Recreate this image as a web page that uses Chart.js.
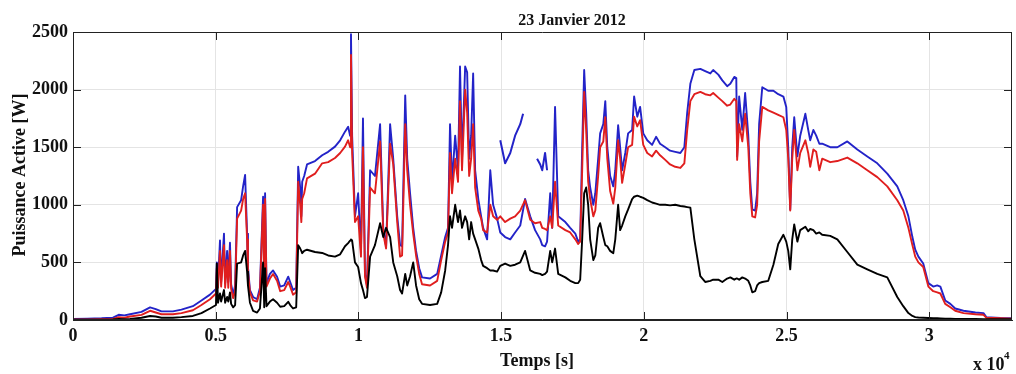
<!DOCTYPE html>
<html>
<head>
<meta charset="utf-8">
<title>23 Janvier 2012</title>
<script src="https://cdn.jsdelivr.net/npm/chart.js@4.4.1/dist/chart.umd.min.js"></script>
<style>
  html, body { margin: 0; padding: 0; background: #ffffff; }
  #wrap { width: 1016px; height: 374px; }
</style>
</head>
<body>
<div id="wrap"><canvas id="c" width="1016" height="374"></canvas></div>
<script>
// Temps [s] of each sample
const timeS = [
  0, 500, 1000, 1400, 1600, 1800, 2000, 2400, 2700, 2900,
  3100, 3500, 3800, 4200, 4500, 4800, 5010, 5040, 5080, 5150,
  5190, 5290, 5330, 5400, 5440, 5500, 5540, 5610, 5680, 5750,
  5890, 5960, 6030, 6100, 6130, 6200, 6310, 6450, 6550, 6660,
  6700, 6730, 6780, 6900, 7010, 7150, 7260, 7400, 7540, 7610,
  7710, 7820, 7890, 7960, 8000, 8030, 8100, 8200, 8480, 8730,
  8940, 9180, 9360, 9530, 9640, 9710, 9740, 9780, 9880, 9990,
  10090, 10160, 10230, 10300, 10410, 10580, 10760, 10870, 10970, 11110,
  11220, 11360, 11460, 11530, 11640, 11710, 11810, 11920, 12020, 12130,
  12230, 12510, 12760, 12900, 13040, 13140, 13210, 13280, 13390, 13490,
  13560, 13630, 13740, 13810, 13880, 13950, 14020, 14090, 14200, 14300,
  14370, 14510, 14620, 14720, 14860, 14970, 15140, 15320, 15490, 15670,
  15840, 16020, 16190, 16370, 16440, 16540, 16610, 16720, 16790, 16890,
  17000, 17250, 17420, 17600, 17700, 17770, 17840, 17910, 17980, 18050,
  18120, 18230, 18300, 18400, 18470, 18580, 18650, 18720, 18820, 18930,
  19000, 19100, 19170, 19240, 19350, 19450, 19590, 19660, 19770, 19870,
  19980, 20120, 20290, 20430, 20570, 20750, 20920, 21100, 21280, 21420,
  21520, 21630, 21770, 21980, 22150, 22330, 22430, 22610, 22750, 22920,
  23030, 23170, 23240, 23270, 23340, 23450, 23550, 23660, 23730, 23800,
  23900, 23970, 24040, 24150, 24360, 24540, 24710, 24890, 24990, 25060,
  25130, 25200, 25270, 25380, 25480, 25660, 25760, 25830, 25940, 26040,
  26150, 26250, 26530, 26780, 27130, 27480, 27830, 28180, 28530, 28880,
  29090, 29270, 29410, 29510, 29620, 29790, 29970, 30140, 30280, 30390,
  30560, 30740, 30910, 31200, 31620, 31900, 32000, 32490, 32900
];

// Puissance active, courbe bleue [W]
const blueW = [
  10, 12, 15, 20, 45, 40, 50, 70, 110, 95,
  75, 75, 90, 120, 170, 220, 270, 500, 320, 690,
  330, 750, 320, 600, 330, 670, 310, 220, 300, 980,
  1040, 1160, 1260, 750, 460, 260, 200, 180, 280, 1070,
  300, 1100, 320, 400, 430, 376, 290, 300, 376, 330,
  260, 280, 1330, 1150, 900, 1200, 1250, 1350, 1380, 1430,
  1460, 1505, 1560, 1635, 1678, 1600, 2480, 1600, 900, 1100,
  600, 1750, 400, 300, 1300, 1250, 1700, 800, 640, 1700,
  1400, 900, 650, 640, 1950, 1400, 1100, 800, 600, 450,
  370, 360, 400, 560, 720, 800, 1700, 1200, 1600, 1300,
  2200, 1400, 2200, 2150, 1400, 1600, 2140, 1300, 1050, 900,
  800, 700, 1300, 1000, 880, 760, 720, 700, 760, 820,
  1050, 900, 780, 700, 650, 640, 680, 1100, 800, 1850,
  900, 850, 800, 750, 680, 700, 1500, 2170, 1800, 1300,
  1150, 1000, 1100, 1400, 1620, 1700, 1900, 1500, 1250, 1160,
  1300, 1690, 1500, 1300, 1450, 1620, 1650, 1940, 1765, 1850,
  1620, 1560, 1520, 1590, 1530, 1500, 1470, 1460, 1450, 1500,
  1800, 2050, 2170, 2180, 2160, 2140, 2170, 2130, 2080, 2030,
  2050, 2110, 2100, 1420, 1940, 1650, 1970, 1600, 1200, 960,
  950, 1100, 1700, 2020, 1990, 1990, 1960, 1940, 1850, 1500,
  960, 1500, 1760, 1420, 1600, 1790, 1650, 1560, 1650, 1600,
  1530, 1530, 1500, 1500, 1550, 1480, 1420, 1360, 1270, 1160,
  1040, 900, 720, 610, 550, 490, 320, 290, 300, 290,
  170, 140, 100, 80, 65, 60, 25, 18, 15
];

// Puissance active, courbe rouge [W]
const redW = [
  5, 5, 8, 10, 25, 20, 30, 45, 80, 65,
  50, 50, 60, 85, 130, 180, 230, 450, 280, 600,
  290, 650, 280, 520, 280, 600, 270, 190, 250, 880,
  950, 1050, 1100, 700, 420, 240, 170, 160, 250, 1000,
  270, 1050, 290, 360, 400, 340, 250, 260, 330, 290,
  220, 240, 1200, 1000, 850, 1050, 1100, 1230, 1270, 1360,
  1370, 1406, 1450, 1505, 1560, 1500, 2300, 1450, 850, 900,
  550, 1500, 380, 280, 1150, 1100, 1550, 750, 620, 1530,
  1350, 850, 550, 560, 1700, 1300, 1000, 750, 560, 400,
  310, 300, 340, 520, 680, 760, 1450, 1100, 1400, 1200,
  1900, 1300, 2000, 1800, 1250, 1400, 1700, 1150, 950, 880,
  780, 760, 1000, 900, 870, 900, 850, 880, 900, 950,
  1040, 870, 840, 850, 800, 790, 780, 900, 800, 1200,
  820, 780, 760, 700, 660, 680, 1300, 1980, 1650, 1200,
  1050, 900, 950, 1250, 1500, 1550, 1760, 1400, 1120, 1010,
  1150, 1560, 1400, 1190, 1350, 1500, 1520, 1765, 1680, 1735,
  1520, 1450, 1420, 1470, 1430, 1390, 1350, 1330, 1320, 1360,
  1650, 1900, 1960, 1980, 1960, 1950, 1970, 1930, 1900, 1860,
  1870, 1920, 1900, 1390, 1700, 1550, 1790, 1500, 1100, 900,
  890, 1000, 1550, 1850, 1820, 1800, 1780, 1760, 1650, 1400,
  950, 1400, 1650, 1300, 1450, 1560, 1450, 1330, 1480, 1460,
  1300, 1400, 1370, 1380, 1410, 1360, 1300, 1240, 1160, 1040,
  950, 800, 650, 550, 500, 460, 290, 250, 240, 230,
  140, 110, 80, 60, 50, 45, 20, 15, 12
];

// Puissance active, courbe noire [W]
const blackW = [
  2, 2, 3, 5, 10, 8, 10, 20, 35, 30,
  20, 20, 25, 35, 60, 100, 130, 490, 150, 230,
  160, 260, 150, 200, 160, 240, 140, 110, 130, 490,
  500, 560, 600, 420, 300, 150, 80, 65, 100, 500,
  110, 450, 120, 160, 180, 150, 115, 120, 158, 130,
  100, 110, 650, 620, 600, 580, 600, 610, 590, 582,
  560, 550, 570, 640, 668, 690, 700, 690, 500, 460,
  320, 260, 190, 200, 550, 650, 840, 720, 800, 720,
  500, 380, 260, 230, 400, 300, 380, 500, 300, 180,
  140, 130, 140, 240, 430, 650, 900, 800, 1000, 850,
  950, 800, 900, 850, 700, 850, 750, 700, 620, 520,
  470, 450, 430, 430, 420, 470, 490, 470, 480, 500,
  600, 430, 410, 400, 390, 400, 420, 600, 500, 620,
  400, 370, 340, 320, 320, 350, 700, 1100, 1150, 1000,
  700, 520, 560, 800, 840, 720, 650, 640, 600, 580,
  700, 1000, 780, 820, 900, 960, 1050, 1070, 1080, 1070,
  1060, 1040, 1020, 1010, 1000, 1000, 995, 1000, 990, 985,
  980, 975, 700, 380, 330, 340, 350, 350, 330, 360,
  370, 350, 360, 360, 350, 370, 360, 340, 300, 240,
  250, 300, 320, 330, 340, 480, 660, 740, 680, 600,
  440, 700, 830, 680, 780, 810, 770, 790, 780, 750,
  760, 740, 730, 700, 590, 480, 440, 400, 370, 200,
  120, 60, 35, 25, 22, 20, 18, 16, 15, 14,
  12, 12, 10, 10, 9, 8, 8, 7, 6
];

// Upper blue branch between 1.5 and 1.66 x 10^4 s (null = break)
const branchTime = [14970, 15140, 15320, 15490, 15670, 15770, 15800, 16260, 16370, 16440, 16540, 16610];
const branchW = [1560, 1360, 1450, 1600, 1700, 1790, null, 1400, 1350, 1300, 1450, 1300];

const yTicks = [0, 500, 1000, 1500, 2000, 2500];
const xTicks = [0, 5000, 10000, 15000, 20000, 25000, 30000];
const xTickLabels = ['0', '0.5', '1', '1.5', '2', '2.5', '3'];
const xMax = 32900;

const SERIF = '"Liberation Serif", "DejaVu Serif", serif';

function pts(t, v) { return t.map((x, i) => ({ x: x, y: v[i] })); }

// Inward tick marks, frame, titles and the x10^4 multiplier
const framePlugin = {
  id: 'frame',
  afterDraw(chart) {
    const { ctx, chartArea: a, scales } = chart;
    ctx.save();
    ctx.strokeStyle = '#222';
    ctx.lineWidth = 1;
    ctx.beginPath();
    ctx.moveTo(a.left, a.top + 0.5); ctx.lineTo(a.right, a.top + 0.5);
    ctx.moveTo(a.right - 0.5, a.top); ctx.lineTo(a.right - 0.5, a.bottom);
    ctx.moveTo(a.left + 0.5, a.top); ctx.lineTo(a.left + 0.5, a.bottom);
    ctx.moveTo(a.left, a.bottom - 0.5); ctx.lineTo(a.right, a.bottom - 0.5);
    ctx.stroke();
    ctx.beginPath();
    xTicks.forEach(v => {
      const x = Math.round(scales.x.getPixelForValue(v)) + 0.5;
      ctx.moveTo(x, a.top); ctx.lineTo(x, a.top + 8);
      ctx.moveTo(x, a.bottom); ctx.lineTo(x, a.bottom - 8);
    });
    yTicks.forEach(v => {
      const y = Math.round(scales.y.getPixelForValue(v)) + 0.5;
      ctx.moveTo(a.left, y); ctx.lineTo(a.left + 8, y);
      ctx.moveTo(a.right, y); ctx.lineTo(a.right - 8, y);
    });
    ctx.stroke();

    ctx.fillStyle = '#111';
    ctx.textAlign = 'center';
    ctx.textBaseline = 'alphabetic';
    ctx.font = 'bold 16px ' + SERIF;
    ctx.fillText('23 Janvier 2012', 572, 25);
    ctx.font = 'bold 18px ' + SERIF;
    ctx.fillText('Temps [s]', 537, 366);

    ctx.save();
    ctx.translate(25, 175);
    ctx.rotate(-Math.PI / 2);
    ctx.font = 'bold 18px ' + SERIF;
    ctx.fillText('Puissance Active [W]', 0, 0);
    ctx.restore();

    ctx.textAlign = 'left';
    ctx.font = 'bold 18px ' + SERIF;
    ctx.fillText('x 10', 973, 370);
    ctx.font = 'bold 11px ' + SERIF;
    ctx.fillText('4', 1004, 359);
    ctx.restore();
  }
};

new Chart(document.getElementById('c'), {
  type: 'line',
  data: {
    datasets: [
      { label: 'noir', data: pts(timeS, blackW), borderColor: '#000000', borderWidth: 1.9 },
      { label: 'rouge', data: pts(timeS, redW), borderColor: '#e01e1e', borderWidth: 1.9 },
      { label: 'bleu', data: pts(branchTime, branchW), borderColor: '#2323c8', borderWidth: 2, spanGaps: false },
      { label: 'bleu', data: pts(timeS, blueW), borderColor: '#2323c8', borderWidth: 1.9 }
    ]
  },
  options: {
    responsive: false,
    animation: false,
    elements: { point: { radius: 0 }, line: { tension: 0, borderJoinStyle: 'round' } },
    layout: { padding: { left: 0, right: 4, top: 32, bottom: 0 } },
    plugins: { legend: { display: false }, tooltip: { enabled: false }, title: { display: false } },
    scales: {
      x: {
        type: 'linear',
        min: 0,
        max: xMax,
        afterFit(scale) { scale.height = 54; scale.paddingLeft = 0; scale.paddingRight = 0; },
        afterBuildTicks(scale) { scale.ticks = xTicks.map(v => ({ value: v })); },
        ticks: {
          autoSkip: false,
          maxRotation: 0,
          padding: 6,
          color: '#111',
          font: { family: SERIF, size: 18, weight: 'bold' },
          callback: (v) => xTickLabels[xTicks.indexOf(v)]
        },
        grid: { color: '#e4e4e4', lineWidth: 1, drawTicks: false },
        border: { display: true, color: '#222' }
      },
      y: {
        type: 'linear',
        min: 0,
        max: 2500,
        afterFit(scale) { scale.width = 73; },
        afterBuildTicks(scale) { scale.ticks = yTicks.map(v => ({ value: v })); },
        ticks: {
          padding: 5,
          color: '#111',
          font: { family: SERIF, size: 18, weight: 'bold' },
          callback: (v) => String(v)
        },
        grid: { color: '#e4e4e4', lineWidth: 1, drawTicks: false },
        border: { display: true, color: '#222' }
      }
    }
  },
  plugins: [framePlugin]
});
</script>
</body>
</html>
